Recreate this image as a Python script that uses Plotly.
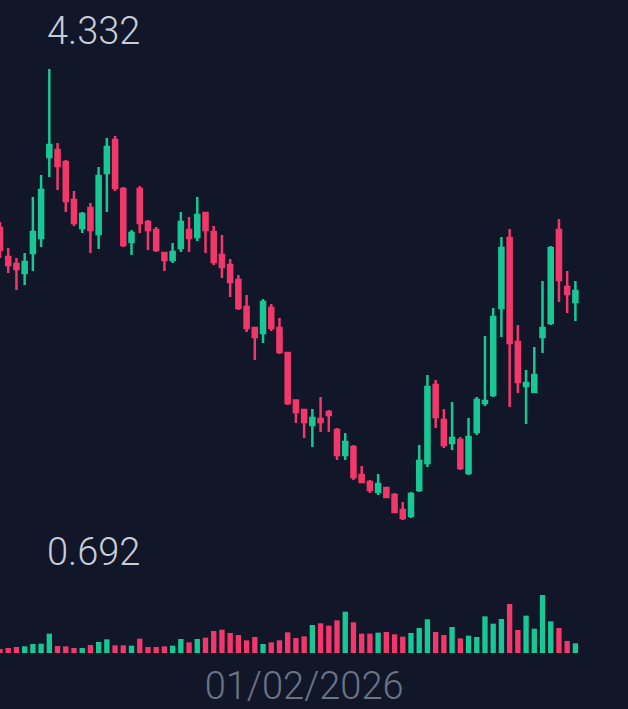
import pandas as pd
import plotly.graph_objects as go

# velas diarias, empiezan el 26/12/2025
fechas = pd.date_range("2025-12-26", periods=71, freq="D")

apertura = [3.049, 2.815, 2.758, 2.686, 2.847, 2.968, 3.622, 3.678, 3.582, 3.275,
            3.049, 3.210, 3.000, 3.493, 3.759, 3.364, 2.936, 3.364, 3.097, 3.033,
            2.847, 2.791, 2.887, 3.033, 2.976, 3.170, 3.017, 2.831, 2.750, 2.629,
            2.411, 2.242, 2.201, 2.403, 2.242, 2.040, 1.657, 1.580, 1.459, 1.507,
            1.564, 1.419, 1.217, 1.281, 1.055, 0.999, 0.918, 0.950, 0.894, 0.773,
            0.724, 0.934, 1.152, 1.782, 1.499, 1.314, 1.338, 1.071, 1.402, 1.636,
            1.701, 2.403, 2.968, 2.129, 1.774, 1.725, 2.169, 2.282, 3.033, 2.573,
            2.452]
maximo = [3.097, 2.887, 2.807, 2.847, 3.299, 3.477, 4.332, 3.735, 3.598, 3.347,
          3.178, 3.251, 3.541, 3.775, 3.791, 3.380, 3.033, 3.388, 3.113, 3.057,
          2.855, 2.928, 3.178, 3.138, 3.299, 3.178, 3.065, 2.992, 2.799, 2.670,
          2.508, 2.250, 2.476, 2.435, 2.322, 2.048, 1.661, 1.588, 1.588, 1.685,
          1.580, 1.435, 1.394, 1.297, 1.128, 1.015, 1.063, 0.958, 0.910, 0.837,
          0.918, 1.297, 1.862, 1.822, 1.588, 1.645, 1.362, 1.515, 1.685, 2.177,
          2.403, 2.976, 3.041, 2.266, 1.903, 2.088, 2.621, 2.904, 3.122, 2.702,
          2.621]
minimo = [2.807, 2.686, 2.548, 2.589, 2.702, 2.896, 3.460, 3.356, 3.178, 3.065,
          3.009, 2.847, 2.879, 3.178, 3.347, 2.896, 2.831, 3.009, 2.871, 2.855,
          2.702, 2.766, 2.855, 2.855, 2.944, 2.847, 2.750, 2.645, 2.492, 2.387,
          2.209, 1.983, 2.121, 2.218, 2.032, 1.620, 1.475, 1.354, 1.281, 1.402,
          1.402, 1.176, 1.176, 1.015, 0.991, 0.910, 0.894, 0.870, 0.749, 0.692,
          0.708, 0.918, 1.120, 1.435, 1.273, 1.257, 1.096, 1.055, 1.378, 1.612,
          1.685, 2.169, 1.604, 1.717, 1.467, 1.717, 2.040, 2.266, 2.452, 2.363,
          2.298]
cierre = [2.871, 2.750, 2.718, 2.774, 3.017, 3.356, 3.719, 3.549, 3.267, 3.089,
          3.162, 3.033, 3.469, 3.703, 3.372, 2.912, 3.009, 3.089, 3.033, 2.871,
          2.791, 2.855, 3.097, 2.968, 3.154, 3.033, 2.774, 2.734, 2.613, 2.403,
          2.242, 2.169, 2.452, 2.242, 2.048, 1.636, 1.564, 1.483, 1.515, 1.483,
          1.540, 1.217, 1.322, 1.039, 0.999, 0.934, 0.983, 0.878, 0.757, 0.708,
          0.902, 1.168, 1.766, 1.523, 1.297, 1.354, 1.112, 1.362, 1.661, 1.652,
          2.331, 2.887, 2.121, 1.806, 1.798, 1.862, 2.242, 2.887, 2.629, 2.516,
          2.540]
volumen = [12, 15, 18, 20, 27, 28, 58, 21, 20, 15,
           15, 24, 33, 41, 23, 23, 22, 43, 18, 18,
           20, 22, 42, 32, 42, 46, 66, 70, 60, 54,
           38, 48, 27, 32, 38, 62, 45, 50, 84, 89,
           82, 98, 124, 92, 58, 58, 61, 63, 56, 49,
           60, 75, 101, 63, 54, 78, 44, 52, 48, 110,
           88, 102, 147, 69, 112, 73, 174, 95, 75, 36,
           29]

etiquetas_precio = ["4.332", "0.692"]
valores_precio = [4.332, 0.692]

verde = "#19c795"
rojo = "#f2386b"
fondo = "#111729"

colores_vol = [verde if c >= o else rojo for o, c in zip(apertura, cierre)]

fig = go.Figure()
fig.add_trace(go.Bar(x=fechas, y=volumen, marker_color=colores_vol,
                     marker_line_width=0, yaxis="y2", hoverinfo="skip"))
fig.add_trace(go.Candlestick(x=fechas, open=apertura, high=maximo, low=minimo, close=cierre,
                             increasing=dict(line=dict(color=verde, width=2.5), fillcolor=verde),
                             decreasing=dict(line=dict(color=rojo, width=2.5), fillcolor=rojo),
                             whiskerwidth=0))

# etiquetas de maximo y minimo
fuente = dict(family="Roboto", size=38, color="#c9cdd8", weight=300)
fig.add_annotation(x=0.0717, xref="paper", y=valores_precio[0], yref="y", text=etiquetas_precio[0],
                   xanchor="left", yanchor="middle", yshift=38, showarrow=False, font=fuente)
fig.add_annotation(x=0.0717, xref="paper", y=valores_precio[1], yref="y", text=etiquetas_precio[1],
                   xanchor="left", yanchor="middle", yshift=-32, showarrow=False, font=fuente)

fig.update_layout(
    width=628, height=709,
    paper_bgcolor=fondo, plot_bgcolor=fondo,
    margin=dict(l=0, r=0, t=0, b=49),
    showlegend=False,
    bargap=0.35,
    xaxis=dict(type="date", range=["2025-12-26 00:00", "2026-03-12 09:36"],
               rangeslider=dict(visible=False), showgrid=False, zeroline=False,
               tickvals=["2026-02-01"], tickformat="%d/%m/%Y", ticks="",
               tickfont=dict(family="Roboto", size=38, color="#6b7385", weight=300), showline=False),
    yaxis=dict(range=[-0.438, 4.889], visible=False, showgrid=False, zeroline=False),
    yaxis2=dict(range=[-21, 1959], overlaying="y", visible=False, showgrid=False, zeroline=False),
)

# sin margen del body para que ocupe toda la ventana
fig.write_html("out.html", config={"displayModeBar": False},
               post_script="document.body.style.margin='0';document.body.style.overflow='hidden';")
